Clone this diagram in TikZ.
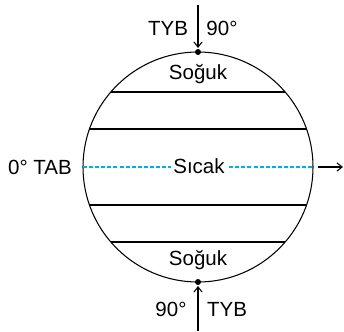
\documentclass[tikz,border=0pt]{standalone}
\usepackage{fontspec}
\setmainfont{Liberation Sans}
\usetikzlibrary{calc,arrows.meta}
\definecolor{eqblue}{RGB}{0,174,239}

\begin{document}
\begin{tikzpicture}[x=0.03cm, y=0.03cm, font=\fontsize{17.5}{20}\selectfont,
	ray/.style={line width=0.9pt, -{Straight Barb[length=4.5pt, width=7pt]}}]
			%%%%% START %%%%%
			
			\useasboundingbox (-198, -164) rectangle (146, 167);
			
			\coordinate (c) at (0, 0);
			\coordinate (n) at (90:115);
			\coordinate (s) at (-90:115);
			\coordinate (w) at (180:115);
			\coordinate (e) at (0:115);
			
			\draw[line width=0.9pt] (c) circle (115);
			
			\draw[line width=0.9pt] (180-40.7:115) -- (40.7:115);
			\draw[line width=0.9pt] (180-19.3:115) -- (19.3:115);
			\draw[line width=0.9pt] (180+19.3:115) -- (-19.3:115);
			\draw[line width=0.9pt] (180+40.7:115) -- (-40.7:115);
			
			\draw[color=eqblue, line width=1pt, dash pattern=on 3.4pt off 1.8pt] (w) -- (e);
			\node[fill=white, inner sep=2pt] (sicak) at (1, 1) {Sıcak};
			
			\node (soguk1) at (0, 93) {Soğuk};
			\node (soguk2) at (0, -93) {Soğuk};
			
			\fill (n) circle (3);
			\fill (s) circle (3);
			
			\coordinate (topin) at (0, 162);
			\coordinate (botin) at (0, -164);
			\coordinate (eastout) at (145, 0);
			\draw[ray] (topin) -- ($(n)+(0, 4)$);
			\draw[ray] (botin) -- ($(s)+(0, -4)$);
			\draw[ray] ($(e)+(5, 0)$) -- (eastout);
			
			\node (tyb1) at (-30, 139) {TYB};
			\node (deg1) at (24, 139) {90°};
			\node (deg2) at (-27, -142) {90°};
			\node (tyb2) at (29, -142) {TYB};
			\node (tab) at (-158, 0) {0° TAB};
			
			%%%%% END %%%%%
		\end{tikzpicture}
\end{document}
